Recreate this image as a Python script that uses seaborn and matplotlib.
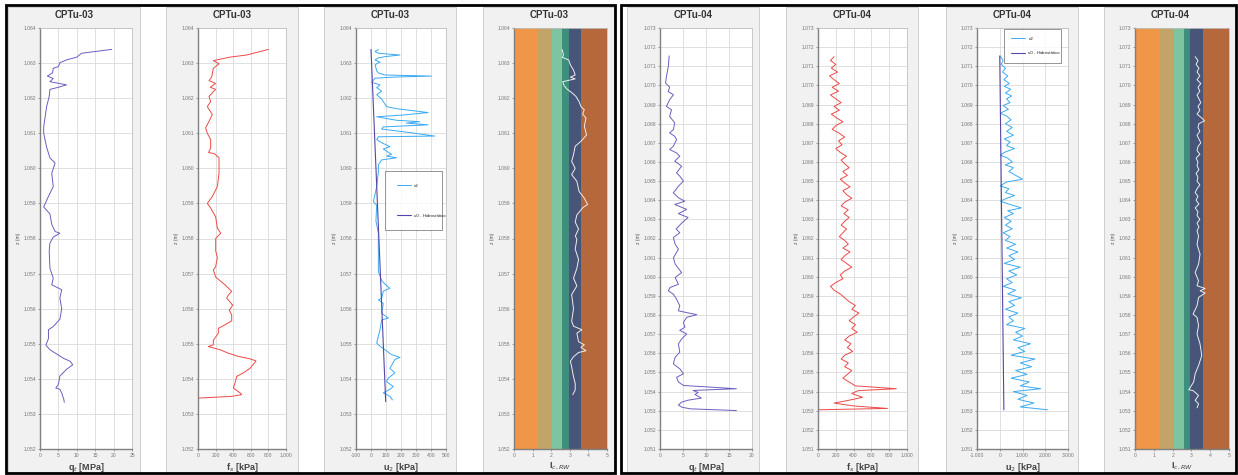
import matplotlib
matplotlib.use("Agg")
import matplotlib.pyplot as plt
from matplotlib.patches import Rectangle
from matplotlib.ticker import FuncFormatter, MultipleLocator
import seaborn as sns

# ---------------- CPTu-03 ----------------
z_qt_03 = [1063.39, 1063.28, 1063.17, 1063.09, 1063.01, 1062.90, 1062.85, 1062.72, 1062.63, 1062.56,
           1062.47, 1062.38, 1062.31, 1062.25, 1062.05, 1061.76, 1061.47, 1061.18, 1061.00, 1060.60,
           1060.30, 1060.15, 1059.86, 1059.48, 1059.20, 1058.90, 1058.70, 1058.40, 1058.20, 1058.15,
           1058.04, 1057.87, 1057.64, 1057.15, 1056.87, 1056.68, 1056.54, 1056.30, 1056.00, 1055.70,
           1055.49, 1055.40, 1055.15, 1054.96, 1054.83, 1054.59, 1054.50, 1054.40, 1054.27, 1054.08,
           1053.84, 1053.74, 1053.70, 1053.60, 1053.40, 1053.33]
qt_03 = [19.5, 11.3, 10.0, 7.2, 5.4, 5.0, 3.6, 3.4, 2.0, 3.6,
         2.7, 7.2, 5.0, 2.7, 2.5, 1.8, 1.4, 1.0, 1.0, 1.8,
         2.7, 4.1, 3.2, 3.6, 2.3, 1.0, 2.7, 3.2, 4.1, 5.4,
         3.6, 2.7, 2.5, 2.7, 3.6, 3.2, 5.9, 5.4, 5.9, 5.4,
         3.6, 2.3, 2.3, 1.6, 2.7, 6.3, 8.2, 8.9, 7.2, 5.4,
         5.0, 4.3, 5.4, 5.9, 6.5, 6.6]

z_fs_03 = [1063.39, 1063.23, 1063.17, 1063.07, 1062.98, 1062.85, 1062.60, 1062.50, 1062.42, 1062.31,
           1062.25, 1062.05, 1061.90, 1061.76, 1061.53, 1061.34, 1061.15, 1061.00, 1060.82, 1060.58,
           1060.45, 1060.42, 1060.30, 1059.86, 1059.48, 1059.20, 1059.00, 1058.87, 1058.62, 1058.30,
           1058.15, 1058.00, 1057.65, 1057.45, 1057.20, 1057.10, 1056.90, 1056.68, 1056.49, 1056.39,
           1056.30, 1056.10, 1055.96, 1055.82, 1055.65, 1055.54, 1055.44, 1055.30, 1055.10, 1054.97,
           1054.92, 1054.83, 1054.73, 1054.64, 1054.57, 1054.51, 1054.30, 1054.17, 1054.07, 1053.88,
           1053.74, 1053.60, 1053.55, 1053.50, 1053.45]
fs_03 = [800, 553, 364, 174, 239, 174, 155, 125, 200, 140,
         200, 125, 144, 106, 163, 125, 87, 106, 144, 144,
         120, 185, 239, 239, 220, 163, 106, 144, 200, 220,
         258, 201, 201, 220, 201, 174, 201, 307, 383, 345,
         326, 394, 356, 383, 383, 307, 231, 231, 174, 174,
         117, 250, 345, 458, 591, 659, 591, 515, 440, 421,
         402, 477, 496, 383, 0]

z_u2_03 = [1063.39, 1063.33, 1063.28, 1063.23, 1063.19, 1063.15, 1063.09, 1063.03, 1062.95, 1062.78,
           1062.72, 1062.66, 1062.63, 1062.60, 1062.57, 1062.45, 1062.38, 1062.30, 1062.20, 1062.10,
           1061.97, 1061.76, 1061.70, 1061.59, 1061.52, 1061.47, 1061.37, 1061.33, 1061.29, 1061.24,
           1061.18, 1061.12, 1061.02, 1060.92, 1060.90, 1060.82, 1060.73, 1060.62, 1060.55, 1060.40,
           1060.35, 1060.30, 1060.24, 1060.10, 1059.90, 1059.48, 1059.05, 1058.95, 1058.50, 1058.15,
           1058.00, 1057.50, 1057.06, 1056.80, 1056.70, 1056.58, 1056.50, 1056.30, 1056.25, 1056.15,
           1055.87, 1055.73, 1055.68, 1055.40, 1055.02, 1054.93, 1054.83, 1054.69, 1054.61, 1054.55,
           1054.30, 1054.17, 1054.02, 1053.92, 1053.78, 1053.70, 1053.60, 1053.50, 1053.40]
u2_03 = [49, 27, 49, 193, 104, 49, 27, 60, 27, 38,
         49, 93, 403, 148, 27, 5, 60, 38, 71, 38,
         71, 104, 170, 380, 214, 38, 170, 325, 236, 380,
         82, 71, 258, 425, 49, 38, 71, 126, 82, 137,
         104, 170, 71, 49, 49, 38, 16, 38, 33, 49,
         49, 49, 49, 71, 93, 126, 82, 71, 49, 82,
         71, 115, 71, 60, 38, 60, 93, 137, 193, 159,
         126, 159, 115, 104, 148, 126, 82, 126, 143]

z_u0_03 = [1063.39, 1053.35]
u0_03 = [0, 98]

z_ic_03 = [1063.39, 1063.30, 1063.23, 1063.16, 1063.09, 1062.95, 1062.80, 1062.66, 1062.60, 1062.55,
           1062.47, 1062.35, 1062.26, 1062.15, 1062.05, 1061.90, 1061.76, 1061.67, 1061.55, 1061.43,
           1061.20, 1060.95, 1060.77, 1060.63, 1060.39, 1060.20, 1060.00, 1059.82, 1059.63, 1059.34,
           1059.15, 1058.97, 1058.88, 1058.67, 1058.47, 1058.27, 1058.07, 1057.97, 1057.70, 1057.40,
           1057.15, 1056.87, 1056.65, 1056.40, 1056.00, 1055.64, 1055.50, 1055.40, 1055.30, 1055.06,
           1054.97, 1054.90, 1054.80, 1054.75, 1054.63, 1054.50, 1054.34, 1054.06, 1053.87, 1053.68,
           1053.55]
ic_03 = [2.58, 2.63, 2.66, 2.60, 2.94, 3.03, 3.20, 3.29, 3.03, 3.29,
         2.62, 2.70, 2.85, 3.12, 3.33, 3.50, 3.60, 3.78, 3.69, 3.87,
         3.78, 3.90, 3.60, 3.29, 3.20, 3.10, 3.29, 3.10, 3.38, 3.50,
         3.78, 3.96, 3.70, 3.38, 3.29, 3.47, 3.30, 3.38, 3.29, 3.47,
         3.38, 3.20, 3.38, 3.10, 3.20, 3.10, 3.20, 3.65, 3.38, 3.47,
         3.78, 3.60, 3.87, 3.47, 3.20, 3.03, 3.10, 3.20, 3.29, 3.29,
         3.16]

# ---------------- CPTu-04 ----------------
z_qt_04 = [1071.54, 1070.98, 1070.46, 1070.12, 1069.91, 1069.68, 1069.51, 1069.25, 1068.90, 1068.73,
           1068.38, 1068.04, 1067.69, 1067.52, 1067.34, 1067.17, 1066.82, 1066.65, 1066.47, 1066.30,
           1066.04, 1065.78, 1065.43, 1065.26, 1065.00, 1064.73, 1064.39, 1064.13, 1063.95, 1063.78,
           1063.52, 1063.30, 1063.10, 1062.80, 1062.50, 1062.30, 1062.05, 1061.70, 1061.44, 1060.99,
           1060.66, 1060.22, 1059.96, 1059.61, 1059.44, 1059.27, 1059.09, 1058.83, 1058.48, 1058.22,
           1058.02, 1057.88, 1057.62, 1057.36, 1057.20, 1057.01, 1056.75, 1056.49, 1056.06, 1055.80,
           1055.45, 1055.19, 1054.93, 1054.75, 1054.50, 1054.32, 1054.15, 1054.06, 1053.95, 1053.85,
           1053.66, 1053.55, 1053.45, 1053.30, 1053.19, 1053.10, 1053.01]
qt_04 = [2.0, 1.8, 1.4, 1.2, 2.1, 1.8, 2.9, 2.1, 1.4, 2.5,
         2.1, 3.2, 2.9, 2.1, 3.2, 3.6, 2.9, 2.1, 3.6, 4.3,
         3.2, 4.7, 3.6, 4.3, 5.1, 4.0, 2.9, 4.0, 5.4, 3.2,
         5.8, 4.0, 6.1, 4.7, 3.5, 4.3, 2.9, 3.3, 4.0, 2.9,
         3.3, 4.7, 3.3, 4.0, 2.2, 1.8, 2.9, 3.6, 4.3, 4.0,
         8.0, 5.8, 5.1, 5.4, 4.3, 5.8, 4.7, 4.0, 4.3, 3.3,
         2.9, 4.3, 5.1, 3.6, 4.0, 5.1, 16.6, 7.2, 8.3, 7.6,
         9.0, 6.1, 4.7, 4.0, 4.7, 6.5, 16.6]

z_fs_04 = [1071.5, 1071.3, 1071.1, 1070.9, 1070.7, 1070.5, 1070.3, 1070.1, 1069.9, 1069.7,
           1069.5, 1069.3, 1069.1, 1068.9, 1068.7, 1068.5, 1068.3, 1068.1, 1067.9, 1067.7,
           1067.5, 1067.3, 1067.1, 1066.9, 1066.7, 1066.5, 1066.3, 1066.1, 1065.9, 1065.7,
           1065.5, 1065.3, 1065.1, 1064.9, 1064.7, 1064.5, 1064.3, 1064.1, 1063.9, 1063.7,
           1063.5, 1063.3, 1063.1, 1062.9, 1062.7, 1062.5, 1062.3, 1062.1, 1061.9, 1061.7,
           1061.5, 1061.3, 1061.1, 1060.9, 1060.7, 1060.5, 1060.3, 1060.1, 1059.9, 1059.7,
           1059.5, 1059.3, 1059.1, 1058.9, 1058.7, 1058.5, 1058.3, 1058.1, 1057.9, 1057.7,
           1057.5, 1057.3, 1057.1, 1056.9, 1056.7, 1056.5, 1056.3, 1056.1, 1055.9, 1055.7,
           1055.5, 1055.3, 1055.1, 1054.9, 1054.7, 1054.5, 1054.3, 1054.15, 1054.05, 1053.9,
           1053.7, 1053.55, 1053.4, 1053.25, 1053.12, 1053.05]
fs_04 = [180, 140, 200, 150, 220, 130, 180, 240, 160, 230,
         140, 200, 260, 180, 240, 150, 210, 280, 200, 160,
         240, 300, 230, 270, 200, 250, 320, 260, 300, 350,
         280, 330, 250, 300, 360, 280, 320, 380, 300, 260,
         340, 290, 350, 300, 260, 320, 280, 240, 300, 340,
         280, 360, 300, 260, 320, 380, 300, 250, 280, 200,
         140, 180, 250, 300, 350, 420, 380, 460, 400, 350,
         420, 380, 440, 350, 300, 370, 330, 390, 300, 260,
         340, 300, 380, 330, 280, 350, 420, 880, 450, 380,
         500, 350, 180, 400, 780, 0]

z_u2_04 = [1071.54, 1071.3, 1071.1, 1070.9, 1070.7, 1070.5, 1070.3, 1070.1, 1069.95, 1069.8,
           1069.6, 1069.45, 1069.3, 1069.1, 1068.95, 1068.75, 1068.55, 1068.4, 1068.2, 1068.0,
           1067.8, 1067.6, 1067.4, 1067.2, 1067.05, 1066.85, 1066.7, 1066.5, 1066.35, 1066.2,
           1066.0, 1065.85, 1065.7, 1065.5, 1065.3, 1065.1, 1064.95, 1064.75, 1064.6, 1064.4,
           1064.25, 1064.1, 1063.95, 1063.8, 1063.6, 1063.45, 1063.3, 1063.1, 1062.9, 1062.7,
           1062.5, 1062.3, 1062.1, 1061.9, 1061.7, 1061.5, 1061.3, 1061.1, 1060.9, 1060.7,
           1060.5, 1060.3, 1060.1, 1059.9, 1059.7, 1059.5, 1059.3, 1059.1, 1058.9, 1058.7,
           1058.5, 1058.3, 1058.1, 1057.9, 1057.7, 1057.5, 1057.3, 1057.1, 1056.9, 1056.7,
           1056.5, 1056.3, 1056.1, 1055.9, 1055.7, 1055.5, 1055.3, 1055.1, 1054.9, 1054.7,
           1054.5, 1054.3, 1054.15, 1054.0, 1053.8, 1053.6, 1053.4, 1053.2, 1053.05]
u2_04 = [20, 150, 60, 250, 120, 350, 180, 420, 200, 480,
         250, 520, 300, 450, 150, 380, 20, 300, 500, 250,
         550, 300, 600, 200, 450, 300, 650, 200, 30, 350,
         550, 250, 600, 400, 700, 1000, 300, 20, 400, 250,
         650, 300, 30, 400, 950, 350, 600, 200, 500, 250,
         550, 150, 450, 250, 700, 300, 800, 400, 650, 200,
         900, 400, 750, 300, 550, 150, 700, 350, 950, 400,
         650, 250, 800, 400, 600, 300, 1100, 700, 1000, 600,
         1350, 800, 1100, 500, 1550, 900, 1400, 700, 1200, 500,
         1300, 900, 1800, 600, 1200, 800, 1500, 900, 2100]

z_u0_04 = [1071.54, 1053.05]
u0_04 = [0, 181]

z_ic_04 = [1071.5, 1071.3, 1071.1, 1070.9, 1070.7, 1070.5, 1070.3, 1070.1, 1069.9, 1069.7,
           1069.5, 1069.3, 1069.1, 1068.9, 1068.7, 1068.5, 1068.3, 1068.15, 1068.0, 1067.8,
           1067.6, 1067.4, 1067.2, 1067.0, 1066.8, 1066.6, 1066.4, 1066.2, 1066.0, 1065.8,
           1065.6, 1065.4, 1065.2, 1065.0, 1064.8, 1064.6, 1064.4, 1064.2, 1064.0, 1063.8,
           1063.6, 1063.4, 1063.2, 1063.0, 1062.8, 1062.6, 1062.4, 1062.13, 1061.7, 1061.18,
           1060.66, 1060.22, 1059.79, 1059.53, 1059.39, 1059.27, 1059.15, 1058.92, 1058.49, 1058.05,
           1057.88, 1057.45, 1057.01, 1056.49, 1055.88, 1055.36, 1054.93, 1054.50, 1054.10, 1054.05,
           1053.80, 1053.54, 1053.36, 1053.15]
ic_04 = [3.20, 3.35, 3.25, 3.40, 3.30, 3.45, 3.30, 3.50, 3.35, 3.45,
         3.30, 3.40, 3.50, 3.35, 3.45, 3.30, 3.55, 3.70, 3.40, 3.35,
         3.45, 3.30, 3.40, 3.50, 3.35, 3.30, 3.45, 3.25, 3.35, 3.30,
         3.40, 3.25, 3.35, 3.30, 3.45, 3.30, 3.20, 3.35, 3.25, 3.40,
         3.20, 3.35, 3.30, 3.45, 3.30, 3.40, 3.30, 3.38, 3.30, 3.46,
         3.38, 3.20, 3.38, 3.30, 3.73, 3.46, 3.73, 3.38, 3.30, 3.09,
         3.30, 3.38, 3.30, 3.46, 3.55, 3.38, 3.20, 3.12, 2.86, 3.09,
         3.38, 3.20, 3.38, 3.30]

# Robertson soil behaviour type bands (Ic limits)
ic_limits = [0, 1.31, 2.05, 2.60, 2.95, 3.60, 5.0]
ic_colors = ["#EF9649", "#C2A468", "#7DC5A1", "#3D8E7F", "#465578", "#B4683C"]

W, H = 1238, 475


def frac(x0, x1, y0, y1):
    return [x0 / W, 1 - y1 / H, (x1 - x0) / W, (y1 - y0) / H]


def thousands(v, pos):
    return f"{v:,.0f}".replace(",", ".")


sns.set_style("white")
plt.rcParams["font.family"] = ["Liberation Sans", "DejaVu Sans"]

fig = plt.figure(figsize=(W / 100, H / 100), dpi=100)

panels = [
    dict(name="CPTu-03", frame=(6, 615), boxes=[8, 166, 324, 483],
         axes=[(40, 132), (198, 286), (356, 446), (514, 607)],
         ylim=(1052, 1064), qt=(z_qt_03, qt_03, 25), fs=(z_fs_03, fs_03),
         u2=(z_u2_03, u2_03, z_u0_03, u0_03, (-100, 500), 100,
             (0.32, 0.52, 0.64, 0.133), 5.8, 2.8),
         ic=(z_ic_03, ic_03)),
    dict(name="CPTu-04", frame=(621, 1236), boxes=[627, 786, 946, 1104],
         axes=[(660, 752), (818, 907), (977, 1068), (1135, 1229)],
         ylim=(1051, 1073), qt=(z_qt_04, qt_04, 20), fs=(z_fs_04, fs_04),
         u2=(z_u2_04, u2_04, z_u0_04, u0_04, (-1000, 3000), 1000,
             (0.30, 0.918, 0.62, 0.075), 2.4, 1.6),
         ic=(z_ic_04, ic_04)),
]

grid_kw = dict(color="#DADADA", lw=0.6)

for p in panels:
    fx0, fx1 = p["frame"]
    fig.add_artist(Rectangle((fx0 / W, 1 - 473 / H), (fx1 - fx0) / W, 468 / H,
                             transform=fig.transFigure, fill=False, lw=2,
                             ec="black", zorder=10))
    for bx in p["boxes"]:
        fig.add_artist(Rectangle((bx / W, 1 - 472 / H), 132 / W, 465 / H,
                                 transform=fig.transFigure, fc="#F0F1F0",
                                 ec="#C8C8C8", lw=0.6, zorder=0))
        fig.text((bx + 66) / W, 1 - 15 / H, p["name"], ha="center", va="center",
                 fontsize=7, fontweight="bold", color="#333333")

    axs = [fig.add_axes(frac(a0, a1, 28, 449)) for a0, a1 in p["axes"]]

    # q_t
    z, v, xmax = p["qt"]
    sns.lineplot(x=v, y=z, sort=False, orient="y", estimator=None,
                 color="#6A5FC0", lw=0.7, ax=axs[0])
    axs[0].set_xlim(0, xmax)
    axs[0].xaxis.set_major_locator(MultipleLocator(5))
    axs[0].set_xlabel("q$_t$ [MPa]")

    # f_s
    z, v = p["fs"]
    sns.lineplot(x=v, y=z, sort=False, orient="y", estimator=None,
                 color="#EE4848", lw=0.7, ax=axs[1])
    axs[1].set_xlim(0, 1000)
    axs[1].xaxis.set_major_locator(MultipleLocator(200))
    axs[1].set_xlabel("f$_s$ [kPa]")

    # u2 and hydrostatic
    z, v, z0, v0, xl, step, lbox, lsp, bpad = p["u2"]
    sns.lineplot(x=v, y=z, sort=False, orient="y", estimator=None,
                 color="#3AAAF2", lw=0.7, ax=axs[2], label="u2")
    sns.lineplot(x=v0, y=z0, sort=False, orient="y", estimator=None,
                 color="#5646A8", lw=0.8, ax=axs[2], label="u0 - Hidrostático")
    axs[2].set_xlim(*xl)
    axs[2].xaxis.set_major_locator(MultipleLocator(step))
    axs[2].set_xlabel("u$_2$ [kPa]")
    leg = axs[2].legend(loc="lower left", bbox_to_anchor=lbox, mode="expand",
                        fontsize=3.2, frameon=True, fancybox=False,
                        edgecolor="#666666", labelspacing=lsp, borderpad=bpad,
                        handlelength=3, borderaxespad=0)
    leg.get_frame().set_linewidth(0.6)

    # Ic with soil type bands
    z, v = p["ic"]
    for lo, hi, c in zip(ic_limits[:-1], ic_limits[1:], ic_colors):
        axs[3].axvspan(lo, hi, color=c, lw=0, zorder=1)
    sns.lineplot(x=v, y=z, sort=False, orient="y", estimator=None,
                 color="#EEEEEE", lw=0.7, ax=axs[3], zorder=3)
    axs[3].set_xlim(0, 5)
    axs[3].xaxis.set_major_locator(MultipleLocator(1))
    axs[3].set_xlabel("I$_{c,RW}$")

    for i, ax in enumerate(axs):
        ax.set_ylim(*p["ylim"])
        ax.yaxis.set_major_locator(MultipleLocator(1))
        ax.yaxis.set_major_formatter(FuncFormatter(thousands))
        ax.xaxis.set_major_formatter(FuncFormatter(thousands))
        ax.set_facecolor("white")
        if i < 3:
            ax.grid(True, **grid_kw)
            ax.set_axisbelow(True)
        ax.tick_params(axis="both", labelsize=3.6, colors="#777777",
                       length=1.5, width=0.5, pad=1.5, left=True, bottom=True)
        ax.set_ylabel("z (m)", fontsize=3.6, color="#555555", labelpad=1.5)
        ax.xaxis.label.set_fontsize(6.5)
        ax.xaxis.label.set_fontweight("bold")
        ax.xaxis.label.set_color("#444444")
        ax.xaxis.labelpad = 2
        for side in ["top", "right"]:
            ax.spines[side].set_color("#C0C0C0")
            ax.spines[side].set_linewidth(0.6)
        for side in ["left", "bottom"]:
            ax.spines[side].set_color("#808080")
            ax.spines[side].set_linewidth(1.0)

fig.savefig("out.png", dpi=100)
